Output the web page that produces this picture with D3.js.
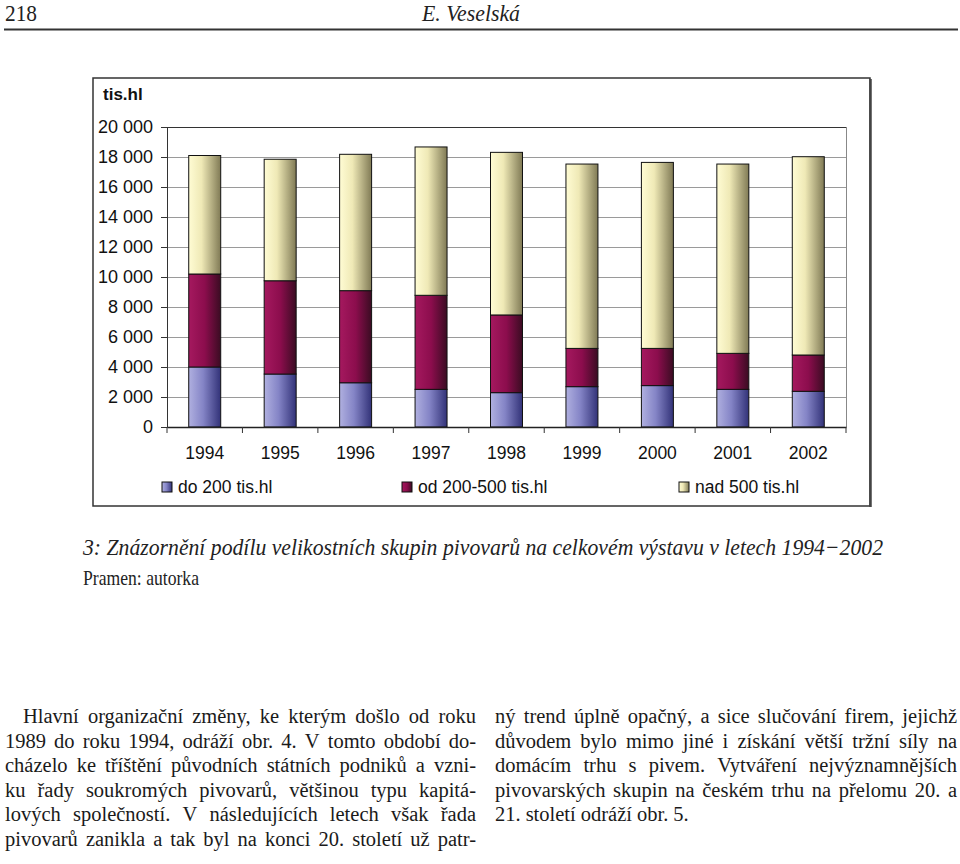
<!DOCTYPE html>
<html><head><meta charset="utf-8">
<script src="https://cdn.jsdelivr.net/npm/d3@7"></script>
<style>body{margin:0;background:#fff}svg{display:block}</style>
</head><body>
<svg id="c" width="960" height="864"></svg>
<script>
const years = ["1994","1995","1996","1997","1998","1999","2000","2001","2002"];
const small  = [4000, 3530, 2950, 2510, 2290, 2690, 2760, 2510, 2380];
const medium = [6200, 6220, 6140, 6270, 5180, 2550, 2480, 2400, 2420];
const large  = [7900, 8100, 9090, 9890, 10840, 12290, 12400, 12620, 13220];
const seriesNames = ["do 200 tis.hl", "od 200-500 tis.hl", "nad 500 tis.hl"];
const yTicks = [0,2000,4000,6000,8000,10000,12000,14000,16000,18000,20000];
const leftLines = [
 "Hlavní organizační změny, ke kterým došlo od roku",
 "1989 do roku 1994, odráží obr. 4. V tomto období do-",
 "cházelo ke tříštění původních státních podniků a vzni-",
 "ku řady soukromých pivovarů, většinou typu kapitá-",
 "lových společností. V následujících letech však řada",
 "pivovarů zanikla a tak byl na konci 20. století už patr-"
];
const rightLines = [
 "ný trend úplně opačný, a sice slučování firem, jejichž",
 "důvodem bylo mimo jiné i získání větší tržní síly na",
 "domácím trhu s pivem. Vytváření nejvýznamnějších",
 "pivovarských skupin na českém trhu na přelomu 20. a",
 "21. století odráží obr. 5."
];

const svg = d3.select("#c");
const defs = svg.append("defs");
const grads = [
  ["gS", [[0,"#b0b0e0"],[0.45,"#8484c6"],[1,"#323278"]]],
  ["gM", [[0,"#a5195f"],[0.5,"#8c0d4d"],[1,"#3a0c22"]]],
  ["gL", [[0,"#fffcd4"],[0.4,"#efe9b6"],[1,"#807a55"]]]
];
grads.forEach(([id, stops]) => {
  const g = defs.append("linearGradient").attr("id", id).attr("x1",0).attr("x2",1).attr("y1",0).attr("y2",0);
  stops.forEach(s => g.append("stop").attr("offset", s[0]).attr("stop-color", s[1]));
});
const fills = ["url(#gS)","url(#gM)","url(#gL)"];

// Header
const serif = "'Liberation Serif','Times New Roman',serif";
svg.append("text").attr("x",5).attr("y",21).attr("font-family",serif).attr("font-size",24)
  .attr("textLength",32).attr("lengthAdjust","spacingAndGlyphs").attr("fill","#222").text("218");
svg.append("text").attr("x",422).attr("y",21).attr("font-family",serif).attr("font-size",24).attr("font-style","italic")
  .attr("textLength",98).attr("lengthAdjust","spacingAndGlyphs").attr("fill","#222").text("E. Veselská");
svg.append("line").attr("x1",4).attr("x2",958).attr("y1",29.5).attr("y2",29.5).attr("stroke","#333").attr("stroke-width",2);

// Chart frame
svg.append("rect").attr("x",93).attr("y",78).attr("width",777).attr("height",428)
  .attr("fill","#fff").attr("stroke","#333").attr("stroke-width",1.5);
svg.append("line").attr("x1",870.5).attr("x2",870.5).attr("y1",79).attr("y2",507).attr("stroke","#444").attr("stroke-width",2.5);

const sans = "'Liberation Sans',Arial,sans-serif";
const pl = 167, pr = 846, pt = 127, pb = 427;
const x = d3.scaleBand().domain(years).range([pl, pr]).paddingInner(0.576).paddingOuter(0.288);
const y = d3.scaleLinear().domain([0, 20000]).range([pb, pt]);

// gridlines
svg.append("g").selectAll("line").data(yTicks.filter(t => t > 0 && t < 20000)).join("line")
  .attr("x1", pl).attr("x2", pr).attr("y1", d => y(d)+0.5).attr("y2", d => y(d)+0.5)
  .attr("stroke","#9a9a9a").attr("stroke-width",1);
svg.append("line").attr("x1",pl).attr("x2",pr).attr("y1",pt+0.5).attr("y2",pt+0.5).attr("stroke","#333").attr("stroke-width",1.2);
svg.append("line").attr("x1",pr+0.5).attr("x2",pr+0.5).attr("y1",pt).attr("y2",pb).attr("stroke","#888").attr("stroke-width",1);

// stacked bars
const table = years.map((yr,i) => ({year: yr, s0: small[i], s1: medium[i], s2: large[i]}));
const stack = d3.stack().keys(["s0","s1","s2"])(table);
svg.append("g").selectAll("g").data(stack).join("g").attr("fill", (d,i) => fills[i])
  .selectAll("rect").data(d => d).join("rect")
  .attr("x", d => x(d.data.year)).attr("width", x.bandwidth())
  .attr("y", d => y(d[1])).attr("height", d => y(d[0]) - y(d[1]))
  .attr("stroke","#111").attr("stroke-width",1);

// axes
const loc = d3.formatLocale({decimal: ",", thousands: " ", grouping: [3], currency: ["", ""]});
const fmt = loc.format(",d");
const yAxis = svg.append("g").attr("transform", `translate(${pl},0)`)
  .call(d3.axisLeft(y).tickValues(yTicks).tickFormat(fmt).tickSize(6).tickPadding(8));
yAxis.select(".domain").attr("stroke","#333");
yAxis.selectAll(".tick line").attr("stroke","#333");
yAxis.selectAll("text").attr("font-family",sans).attr("font-size",18).attr("fill","#111");

const xAxis = svg.append("g").attr("transform", `translate(0,${pb})`)
  .call(d3.axisBottom(x).tickSize(0).tickPadding(20));
xAxis.select(".domain").attr("stroke","#222").attr("stroke-width",1.5);
xAxis.selectAll("text").attr("font-family",sans).attr("font-size",17.5).attr("fill","#111");
const step = x.step();
svg.append("g").selectAll("line").data(d3.range(years.length + 1)).join("line")
  .attr("x1", i => pl + i*step).attr("x2", i => pl + i*step)
  .attr("y1", pb).attr("y2", pb + 6).attr("stroke","#333");

// unit label
svg.append("text").attr("x",103).attr("y",100).attr("font-family",sans).attr("font-weight","bold")
  .attr("font-size",17).attr("fill","#111").text("tis.hl");

// legend
const legX = [162, 402, 679];
const leg = svg.append("g").selectAll("g").data(seriesNames).join("g")
  .attr("transform", (d,i) => `translate(${legX[i]},482)`);
leg.append("rect").attr("width",10).attr("height",10).attr("fill",(d,i)=>fills[i]).attr("stroke","#111");
leg.append("text").attr("x",16).attr("y",11).attr("font-family",sans).attr("font-size",17.5).attr("fill","#111").text(d => d);

// caption
svg.append("text").attr("x",83).attr("y",555).attr("font-family",serif).attr("font-size",23).attr("font-style","italic")
  .attr("textLength",800).attr("lengthAdjust","spacingAndGlyphs").attr("fill","#222")
  .text("3: Znázornění podílu velikostních skupin pivovarů na celkovém výstavu v letech 1994−2002");
svg.append("text").attr("x",83).attr("y",585).attr("font-family",serif).attr("font-size",22)
  .attr("textLength",116).attr("lengthAdjust","spacingAndGlyphs").attr("fill","#222").text("Pramen: autorka");

// body text, justified
function para(lines, x0, x1, firstIndent, lastJustify, y0){
  lines.forEach((ln, i) => {
    const words = ln.split(" ");
    const sx = x0 + (i === 0 ? firstIndent : 0);
    const t = svg.append("text").attr("y", y0 + i*24.6).attr("font-family",serif).attr("font-size",20.5).attr("fill","#1a1a1a");
    const spans = words.map(w => t.append("tspan").text(w));
    const widths = spans.map(s => s.node().getComputedTextLength());
    const total = d3.sum(widths);
    const justify = (i < lines.length - 1) || lastJustify;
    const gap = justify && words.length > 1 ? (x1 - sx - total) / (words.length - 1) : 5;
    let cx = sx;
    spans.forEach((s, k) => { s.attr("x", cx); cx += widths[k] + gap; });
  });
}
para(leftLines, 5, 476, 18, true, 723);
para(rightLines, 495, 957, 0, false, 723);
</script>
</body></html>
